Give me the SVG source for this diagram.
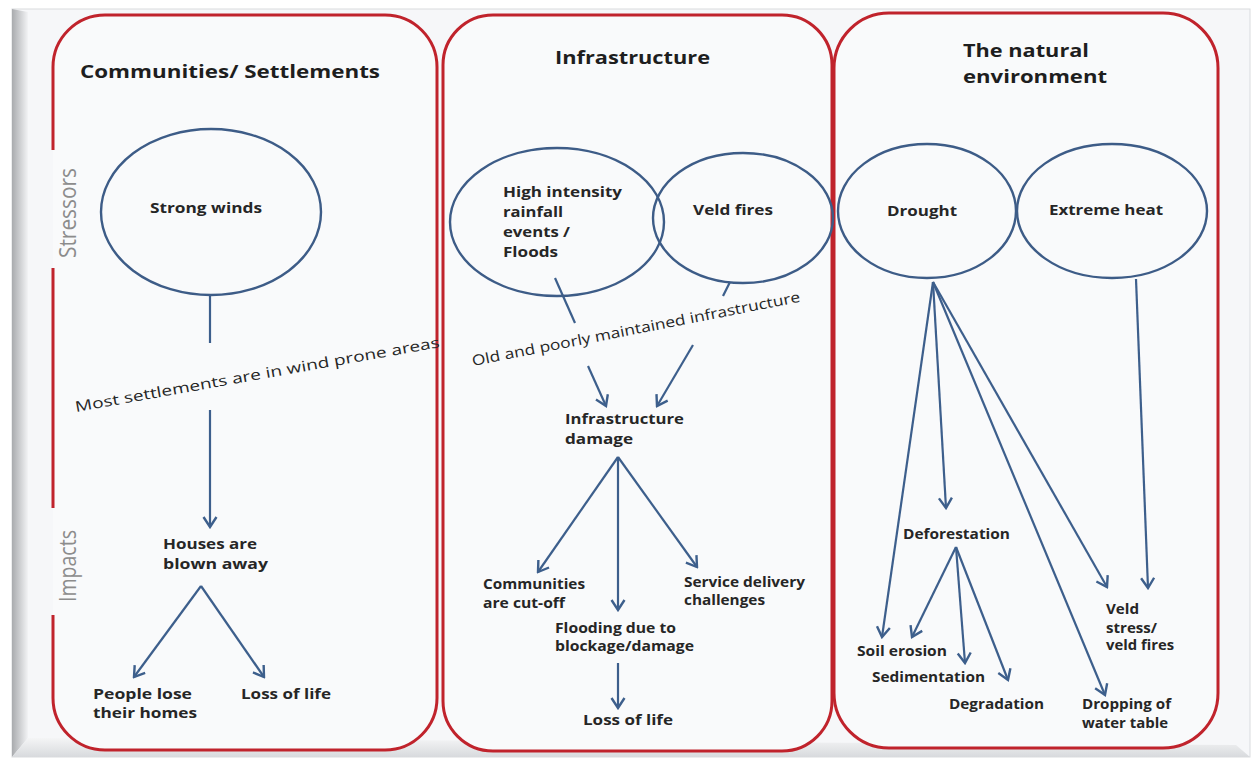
<svg xmlns="http://www.w3.org/2000/svg" width="1257" height="758" viewBox="0 0 1257 758">
<style>
.panel{fill:none;stroke:#c0232c;stroke-width:3}
.pfill{fill:#f9fafb;stroke:none}
.ell{fill:none;stroke:#3d5c87;stroke-width:2.4}
.ln{fill:none;stroke:#3d5f8c;stroke-width:2.2}
.arr{fill:none;stroke:#3d5f8c;stroke-width:2.2;marker-end:url(#ah)}
.t{font-family:"Open Sans","Liberation Sans",sans-serif;font-weight:700;font-size:13.5px;fill:#262626}
.h{font-family:"Open Sans","Liberation Sans",sans-serif;font-weight:700;font-size:17.5px;fill:#1e1e1e}
.s{font-family:"Open Sans","Liberation Sans",sans-serif;font-weight:400;font-size:14.5px;fill:#262626}
.side{font-family:"Open Sans","Liberation Sans",sans-serif;font-weight:400;font-size:23px;fill:#8c8c8c}
</style>
<defs>
<marker id="ah" markerUnits="userSpaceOnUse" markerWidth="16" markerHeight="16" viewBox="0 0 16 16" refX="14" refY="8" orient="auto">
<path d="M4,1.5 L14,8 L4,14.5" fill="none" stroke="#3d5f8c" stroke-width="2.4"/>
</marker>
<linearGradient id="lb" x1="0" y1="0" x2="1" y2="0">
<stop offset="0" stop-color="#a9abae"/>
<stop offset="1" stop-color="#f2f3f5"/>
</linearGradient>
<linearGradient id="bb" x1="0" y1="0" x2="0" y2="1">
<stop offset="0" stop-color="#f4f5f6"/>
<stop offset="1" stop-color="#d8dadd"/>
</linearGradient>
</defs>
<rect x="0" y="0" width="1257" height="758" fill="#ffffff"/>
<g id="frame">
<rect x="12" y="9" width="1238" height="748" fill="#f6f7f9" stroke="#d9dbde" stroke-width="1"/>
<polygon points="12,9 28,12 28,738 12,757" fill="url(#lb)"/>
<polygon points="12,757 28,738 1236,745 1250,757" fill="url(#bb)"/>
</g>
<g id="panel-communities">
<rect class="pfill" x="53" y="15" width="384" height="735" rx="52"/>
<path class="panel" d="M53,268 L53,508 M53,615 L53,698 A52,52 0 0 0 105,750 L385,750 A52,52 0 0 0 437,698 L437,67 A52,52 0 0 0 385,15 L105,15 A52,52 0 0 0 53,67 L53,150"/>
<text class="h" x="80" y="78" textLength="300" lengthAdjust="spacingAndGlyphs">Communities/ Settlements</text>
<text class="side" transform="translate(76,213) rotate(-90)" text-anchor="middle" textLength="90" lengthAdjust="spacingAndGlyphs">Stressors</text>
<text class="side" transform="translate(76,566) rotate(-90)" text-anchor="middle" textLength="72" lengthAdjust="spacingAndGlyphs">Impacts</text>
</g>
<g id="panel-infrastructure">
<rect class="pfill" x="443" y="15" width="389" height="736" rx="50"/>
<rect class="panel" x="443" y="15" width="389" height="736" rx="50"/>
<text class="h" x="555" y="64" textLength="155" lengthAdjust="spacingAndGlyphs">Infrastructure</text>
</g>
<g id="panel-environment">
<rect class="pfill" x="834" y="13" width="384" height="735" rx="55"/>
<rect class="panel" x="834" y="13" width="384" height="735" rx="55"/>
<text class="h" x="963" y="57" textLength="126" lengthAdjust="spacingAndGlyphs">The natural</text>
<text class="h" x="963" y="83" textLength="144" lengthAdjust="spacingAndGlyphs">environment</text>
</g>
<g id="connectors">
<line class="ln" x1="210" y1="295" x2="210" y2="343"/>
<line class="arr" x1="210" y1="410" x2="210" y2="527"/>
<line class="arr" x1="201" y1="586" x2="134" y2="677"/>
<line class="arr" x1="201" y1="586" x2="264" y2="677"/>
<line class="ln" x1="555" y1="278" x2="575" y2="323"/>
<line class="ln" x1="730" y1="282" x2="723" y2="296"/>
<line class="arr" x1="588" y1="366" x2="606" y2="406"/>
<line class="arr" x1="693" y1="345" x2="657" y2="406"/>
<line class="arr" x1="618" y1="457" x2="538" y2="572"/>
<line class="arr" x1="618" y1="457" x2="618" y2="610"/>
<line class="arr" x1="618" y1="457" x2="697" y2="567"/>
<line class="arr" x1="618" y1="663" x2="618" y2="708"/>
<line class="arr" x1="933" y1="282" x2="882" y2="637"/>
<line class="arr" x1="933" y1="282" x2="946" y2="508"/>
<line class="arr" x1="933" y1="282" x2="1105" y2="695"/>
<line class="arr" x1="933" y1="282" x2="1107" y2="587"/>
<line class="arr" x1="1136" y1="279" x2="1148" y2="588"/>
<line class="arr" x1="956" y1="547" x2="912" y2="637"/>
<line class="arr" x1="956" y1="547" x2="965" y2="663"/>
<line class="arr" x1="956" y1="547" x2="1008" y2="680"/>
</g>
<g id="strong-winds">
<ellipse class="ell" cx="211" cy="212" rx="110" ry="83"/>
<text class="t" x="150" y="213" textLength="112" lengthAdjust="spacingAndGlyphs">Strong winds</text>
</g>
<g id="wind-prone-label">
<text class="s" transform="translate(76,412) rotate(-10.1)" textLength="370" lengthAdjust="spacingAndGlyphs">Most settlements are in wind prone areas</text>
</g>
<g id="houses-blown">
<text class="t" x="163" y="549" textLength="94" lengthAdjust="spacingAndGlyphs">Houses are</text>
<text class="t" x="163" y="569" textLength="105" lengthAdjust="spacingAndGlyphs">blown away</text>
</g>
<g id="people-lose-homes">
<text class="t" x="93" y="699" textLength="99" lengthAdjust="spacingAndGlyphs">People lose</text>
<text class="t" x="93" y="718" textLength="104" lengthAdjust="spacingAndGlyphs">their homes</text>
</g>
<g id="loss-of-life-1">
<text class="t" x="241" y="699" textLength="90" lengthAdjust="spacingAndGlyphs">Loss of life</text>
</g>
<g id="rainfall-floods">
<ellipse class="ell" cx="557" cy="222" rx="107" ry="74"/>
<text class="t" x="503" y="197" textLength="119" lengthAdjust="spacingAndGlyphs">High intensity</text>
<text class="t" x="503" y="217" textLength="60" lengthAdjust="spacingAndGlyphs">rainfall</text>
<text class="t" x="503" y="237" textLength="67" lengthAdjust="spacingAndGlyphs">events /</text>
<text class="t" x="503" y="257" textLength="55" lengthAdjust="spacingAndGlyphs">Floods</text>
</g>
<g id="veld-fires">
<ellipse class="ell" cx="743" cy="218" rx="90" ry="65"/>
<text class="t" x="693" y="215" textLength="80" lengthAdjust="spacingAndGlyphs">Veld fires</text>
</g>
<g id="old-infra-label">
<text class="s" transform="translate(473,366) rotate(-11.1)" textLength="334" lengthAdjust="spacingAndGlyphs">Old and poorly maintained infrastructure</text>
</g>
<g id="infra-damage">
<text class="t" x="565" y="424" textLength="119" lengthAdjust="spacingAndGlyphs">Infrastructure</text>
<text class="t" x="565" y="444" textLength="68" lengthAdjust="spacingAndGlyphs">damage</text>
</g>
<g id="cut-off">
<text class="t" x="483" y="589" textLength="102" lengthAdjust="spacingAndGlyphs">Communities</text>
<text class="t" x="483" y="608" textLength="82" lengthAdjust="spacingAndGlyphs">are cut-off</text>
</g>
<g id="service-delivery">
<text class="t" x="684" y="587" textLength="121" lengthAdjust="spacingAndGlyphs">Service delivery</text>
<text class="t" x="684" y="605" textLength="81" lengthAdjust="spacingAndGlyphs">challenges</text>
</g>
<g id="flooding">
<text class="t" x="555" y="633" textLength="121" lengthAdjust="spacingAndGlyphs">Flooding due to</text>
<text class="t" x="555" y="651" textLength="139" lengthAdjust="spacingAndGlyphs">blockage/damage</text>
</g>
<g id="loss-of-life-2">
<text class="t" x="583" y="725" textLength="90" lengthAdjust="spacingAndGlyphs">Loss of life</text>
</g>
<g id="drought">
<ellipse class="ell" cx="927" cy="211" rx="89" ry="67"/>
<text class="t" x="887" y="216" textLength="70" lengthAdjust="spacingAndGlyphs">Drought</text>
</g>
<g id="extreme-heat">
<ellipse class="ell" cx="1112" cy="211" rx="95" ry="67"/>
<text class="t" x="1049" y="215" textLength="114" lengthAdjust="spacingAndGlyphs">Extreme heat</text>
</g>
<g id="deforestation">
<text class="t" x="903" y="539" textLength="107" lengthAdjust="spacingAndGlyphs">Deforestation</text>
</g>
<g id="soil-erosion">
<text class="t" x="857" y="656" textLength="90" lengthAdjust="spacingAndGlyphs">Soil erosion</text>
</g>
<g id="sedimentation">
<text class="t" x="872" y="682" textLength="113" lengthAdjust="spacingAndGlyphs">Sedimentation</text>
</g>
<g id="degradation">
<text class="t" x="949" y="709" textLength="95" lengthAdjust="spacingAndGlyphs">Degradation</text>
</g>
<g id="water-table">
<text class="t" x="1082" y="709" textLength="89" lengthAdjust="spacingAndGlyphs">Dropping of</text>
<text class="t" x="1082" y="728" textLength="86" lengthAdjust="spacingAndGlyphs">water table</text>
</g>
<g id="veld-stress">
<text class="t" x="1106" y="614" textLength="33" lengthAdjust="spacingAndGlyphs">Veld</text>
<text class="t" x="1106" y="633" textLength="51" lengthAdjust="spacingAndGlyphs">stress/</text>
<text class="t" x="1106" y="650" textLength="68" lengthAdjust="spacingAndGlyphs">veld fires</text>
</g>
</svg>
